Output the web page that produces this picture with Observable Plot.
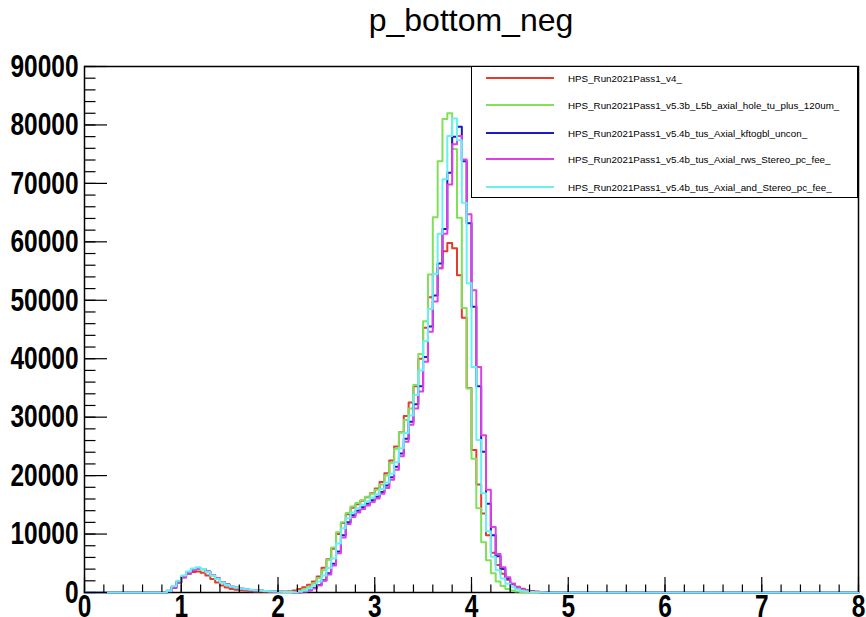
<!DOCTYPE html>
<html>
<head>
<meta charset="utf-8">
<script src="https://cdn.jsdelivr.net/npm/d3@7"></script>
<script src="https://cdn.jsdelivr.net/npm/@observablehq/plot@0.6"></script>
<style>
  html, body { margin: 0; padding: 0; background: #fff; }
  #wrap { position: relative; width: 866px; height: 617px; overflow: hidden; font-family: "Liberation Sans", Arial, sans-serif; }
  #title { position: absolute; left: 84px; width: 774px; top: 2px; text-align: center; font-size: 32px; color: #000; }
  #legend { position: absolute; left: 471px; top: 66px; width: 385px; height: 130px; border: 1.5px solid #000; background: #fff; }
  .row { position: absolute; left: 0; height: 20px; display: flex; align-items: center; }
  .sw { width: 68px; height: 0; border-top: 2px solid; margin-left: 14px; margin-right: 14px; }
  .lab { font-size: 9.8px; color: #000; white-space: nowrap; }
</style>
</head>
<body>
<div id="wrap">
  <div id="chart"></div>
  <div id="title">p_bottom_neg</div>
  <div id="legend"></div>
</div>
<script>
// ---- data (bin width 0.05, first listed bin starts at x = 0.80; all other bins are 0) ----
const binWidth = 0.05;
const firstBin = 0.80;

const seriesNames = [
  "HPS_Run2021Pass1_v4_",
  "HPS_Run2021Pass1_v5.3b_L5b_axial_hole_tu_plus_120um_",
  "HPS_Run2021Pass1_v5.4b_tus_Axial_kftogbl_uncon_",
  "HPS_Run2021Pass1_v5.4b_tus_Axial_rws_Stereo_pc_fee_",
  "HPS_Run2021Pass1_v5.4b_tus_Axial_and_Stereo_pc_fee_"
];
const seriesColors = ["#e53b2c", "#7fe05a", "#1a1ac8", "#e03ee6", "#66f2f2"];

const red = [0,300,1000,1800,2600,3200,3500,3600,3400,2900,2300,1700,1200,850,600,450,350,280,230,190,160,140,130,130,140,170,220,350,600,910,1320,1890,2740,4240,5700,7500,10000,11900,13400,14500,15100,15700,16300,17000,17800,18900,20400,22600,25000,27400,30200,32500,35300,40000,45300,50500,54500,55500,58400,59800,58900,54300,47000,35000,24400,18500,13500,9800,6800,4700,3200,2200,1500,1000,650,400,250,150,90,50,30,15,0,0];
const green = [0,300,1000,1900,2800,3500,4000,4200,3950,3450,2850,2250,1700,1250,950,750,600,500,420,350,290,240,190,150,120,100,110,100,250,550,1000,1600,2500,3800,5600,7700,10300,12000,13600,14700,15300,15800,16400,16900,17600,18500,20000,22200,24600,27400,29500,31500,35500,40800,46400,54400,64200,73800,81000,82000,75900,64100,48700,34900,22900,14400,8600,5500,3300,1900,1100,600,330,180,100,50,25,10,0,0,0,0,0,0];
const blue = [0,200,800,1700,2600,3300,3800,4100,4000,3600,3000,2400,1800,1350,1000,800,650,530,440,360,300,240,190,150,110,90,70,40,60,170,380,750,1300,2100,3300,4900,7000,9800,12000,13200,14000,14600,15200,15800,16400,17200,18300,19700,21500,23800,26300,29200,32200,35300,40300,45500,50800,56300,62200,71800,78000,79700,73800,63200,48900,35300,24100,15200,9800,6200,4000,2400,1400,800,450,250,130,70,35,15,5,0,0,0];
const magenta = [0,200,800,1700,2600,3300,3800,4100,4000,3600,3000,2400,1800,1350,1000,800,650,530,440,360,300,240,190,150,110,90,70,40,50,150,350,700,1200,2000,3100,4600,6700,9400,11700,12900,13700,14300,14900,15500,16100,16900,17900,19300,21000,23300,25800,28700,31500,34400,39500,44600,49800,55500,61400,69800,76700,78100,74100,64700,51700,38600,26900,17600,11200,6600,4300,2600,1500,900,500,280,150,80,40,20,10,0,0,0];
const cyan = [0,300,1100,2000,2900,3600,4100,4300,4000,3500,2900,2300,1700,1300,1000,800,650,550,450,380,320,260,210,160,120,100,100,50,150,350,700,1200,1900,2900,4200,5800,8400,11000,12700,13700,14400,15000,15600,16200,16800,17700,18800,20300,22300,24700,27300,30300,33800,38000,43000,48500,54500,61400,70700,78100,81100,77400,66700,52900,38600,26100,17000,10500,6100,3800,2400,1500,900,550,320,180,100,50,25,10,0,0,0,0];

const xTicks = [0, 1, 2, 3, 4, 5, 6, 7, 8];
const yTicks = [0, 10000, 20000, 30000, 40000, 50000, 60000, 70000, 80000, 90000];
const xMinor = d3.range(0, 8.001, 0.2);
const yMinor = d3.range(0, 90001, 2000);

// ---- build step-histogram points ----
function hist(values) {
  const pts = [];
  for (let i = 0; i < 160; i++) {
    const x = i * binWidth;
    const j = Math.round((x - firstBin) / binWidth);
    pts.push({x, y: (j >= 0 && j < values.length) ? values[j] : 0});
  }
  pts.push({x: 8, y: 0});
  return pts;
}
const allSeries = [red, green, blue, magenta, cyan];

const W = 866, H = 617, mL = 84, mR = 8, mT = 66, mB = 25;
const fw = W - mL - mR, fh = H - mT - mB;
const tickFont = "'Liberation Sans', Arial, sans-serif";

const chart = Plot.plot({
  width: W, height: H,
  marginLeft: mL, marginRight: mR, marginTop: mT, marginBottom: mB,
  x: {domain: [0, 8], label: null},
  y: {domain: [0, 90000], label: null},
  style: {background: "white"},
  marks: [
    Plot.frame({stroke: "black", strokeWidth: 1.5}),
    ...allSeries.map((s, k) => Plot.line(hist(s), {x: "x", y: "y", curve: "step-after", stroke: seriesColors[k], strokeWidth: 2})),
    Plot.tickX(xTicks, {x: d => d, insetTop: fh - 15, stroke: "black", strokeWidth: 1.2}),
    Plot.tickX(xMinor, {x: d => d, insetTop: fh - 7.5, stroke: "black", strokeWidth: 1.2}),
    Plot.tickY(yTicks, {y: d => d, insetRight: fw - 23, stroke: "black", strokeWidth: 1.2}),
    Plot.tickY(yMinor, {y: d => d, insetRight: fw - 11.5, stroke: "black", strokeWidth: 1.2}),
    Plot.axisX(xTicks, {label: null, tickSize: 0, tickPadding: 1.5, fontSize: 32, fontWeight: "bold", fontFamily: tickFont, tickFormat: d => String(d), fill: "black"}),
    Plot.axisY(yTicks, {label: null, tickSize: 0, tickPadding: 6, fontSize: 32, fontWeight: "bold", fontFamily: tickFont, tickFormat: d => String(d), fill: "black"})
  ]
});
document.getElementById("chart").appendChild(chart);

// condensed look of the ROOT tick labels
chart.querySelectorAll('g[aria-label="x-axis tick label"] text, g[aria-label="y-axis tick label"] text').forEach(t => {
  const n = t.textContent.length;
  t.setAttribute("textLength", 13.6 * n);
  t.setAttribute("lengthAdjust", "spacingAndGlyphs");
});

// ---- legend ----
const leg = document.getElementById("legend");
const rowTops = [1, 28, 56, 82, 110];
seriesNames.forEach((name, k) => {
  const r = document.createElement("div");
  r.className = "row";
  r.style.top = rowTops[k] + "px";
  const sw = document.createElement("div");
  sw.className = "sw";
  sw.style.borderTopColor = seriesColors[k];
  const lb = document.createElement("span");
  lb.className = "lab";
  lb.textContent = name;
  r.appendChild(sw); r.appendChild(lb);
  leg.appendChild(r);
});
</script>
</body>
</html>
